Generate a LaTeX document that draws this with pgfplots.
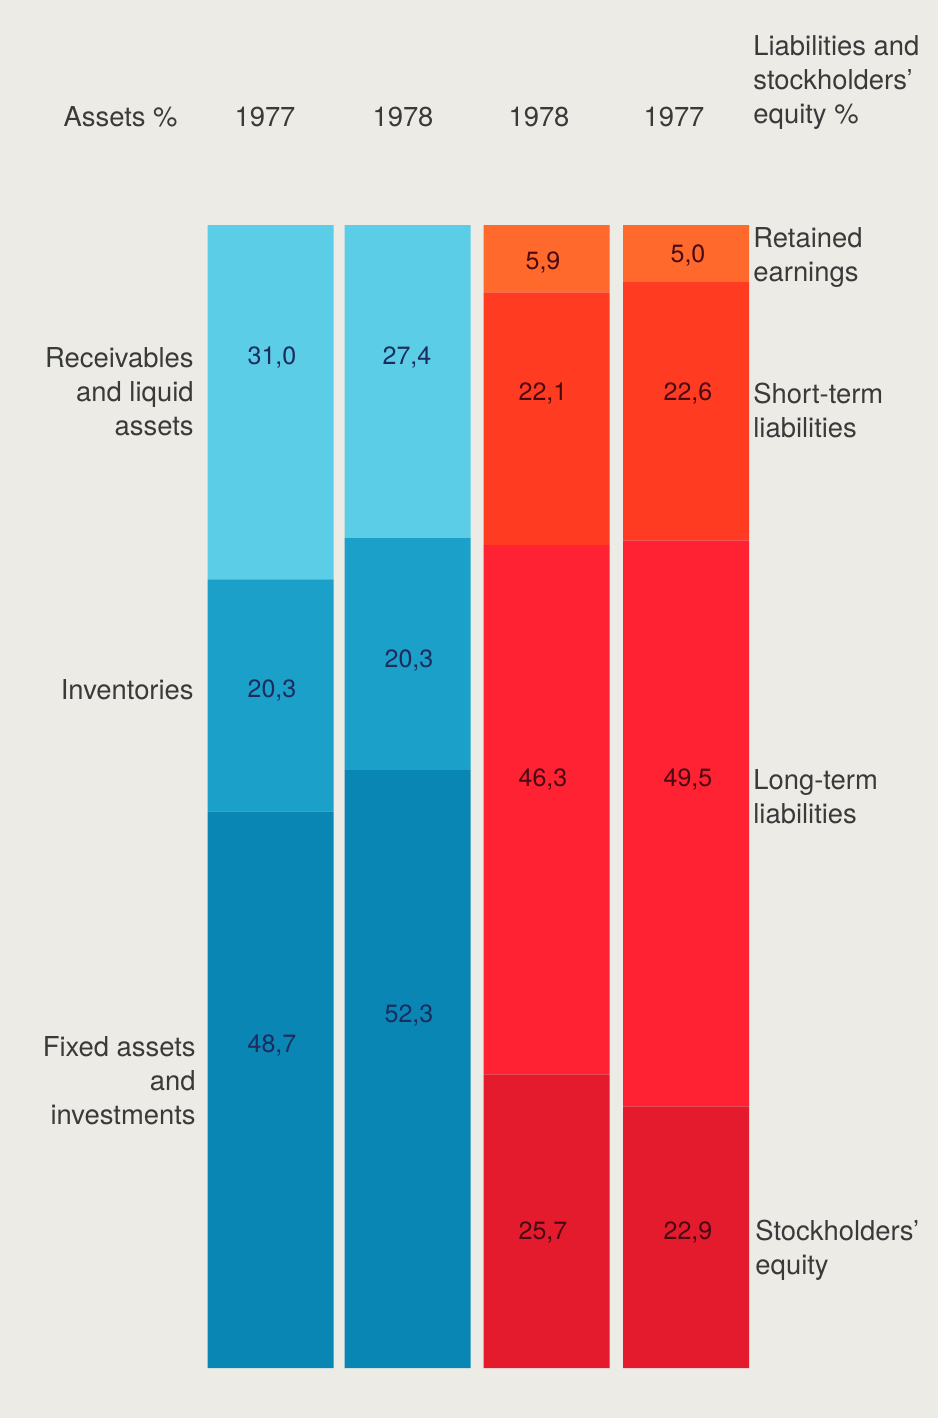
\documentclass[border=0pt]{standalone}
\usepackage{pgfplots}
\pgfplotsset{compat=1.18}
\usepackage{fontspec}
\setmainfont{TeX Gyre Heros}
\definecolor{bg}{HTML}{ECEBE5}
\definecolor{recv}{HTML}{5BCDE6}
\definecolor{inv}{HTML}{1BA0CA}
\definecolor{fixd}{HTML}{0A86B5}
\definecolor{reta}{HTML}{FF6A2C}
\definecolor{shrt}{HTML}{FF3B22}
\definecolor{long}{HTML}{FF2232}
\definecolor{equi}{HTML}{E31B2C}
\definecolor{txt}{HTML}{3A3A3A}
\definecolor{navy}{HTML}{1C2C5C}
\definecolor{dred}{HTML}{4A0A14}
\begin{document}
\begin{tikzpicture}
\fill[bg] (0pt,0pt) rectangle (469pt,709pt);
\begin{axis}[at={(0pt,0pt)}, anchor=south west, scale only axis,
  width=469pt, height=709pt, xmin=0, xmax=938, ymin=-4.374, ymax=119.69,
  hide axis, ybar stacked, bar width=126,
  every axis plot/.append style={draw=none}]
% bottom level
\addplot[fill=fixd] coordinates {(270.5,48.7) (407.5,52.3) (546.5,0) (686,0)};
\addplot[fill=equi] coordinates {(270.5,0) (407.5,0) (546.5,25.7) (686,22.9)};
% middle level
\addplot[fill=inv] coordinates {(270.5,20.3) (407.5,20.3) (546.5,0) (686,0)};
\addplot[fill=long] coordinates {(270.5,0) (407.5,0) (546.5,46.3) (686,49.5)};
% upper level
\addplot[fill=recv] coordinates {(270.5,31.0) (407.5,27.4) (546.5,0) (686,0)};
\addplot[fill=shrt] coordinates {(270.5,0) (407.5,0) (546.5,22.1) (686,22.6)};
% top level
\addplot[fill=reta] coordinates {(270.5,0) (407.5,0) (546.5,5.9) (686,5.0)};
\end{axis}
\begin{scope}[shift={(0pt,709pt)}, x=0.5pt, y=-0.5pt]
\tikzset{lab/.style={text=txt, font=\fontsize{13.7}{17}\selectfont, inner sep=0pt},
         num/.style={font=\fontsize{12.5}{15}\selectfont, inner sep=0pt}}
% header
\node[lab, anchor=east] at (178,117) {Assets \%};
\node[lab] at (265,117) {1977};
\node[lab] at (403,117) {1978};
\node[lab] at (539,117) {1978};
\node[lab] at (674,117) {1977};
\node[lab, anchor=west, align=left] at (753,83) {Liabilities and\\stockholders'\\equity \%};
% left labels
\node[lab, anchor=east, align=right] at (194,392) {Receivables\\and liquid\\assets};
\node[lab, anchor=east] at (194,690) {Inventories};
\node[lab, anchor=east, align=right] at (196,1081) {Fixed assets\\and\\investments};
% right labels
\node[lab, anchor=west, align=left] at (753,258) {Retained\\earnings};
\node[lab, anchor=west, align=left] at (753,410) {Short-term\\liabilities};
\node[lab, anchor=west, align=left] at (753,797) {Long-term\\liabilities};
\node[lab, anchor=west, align=left] at (755,1250) {Stockholders'\\equity};
% values
\node[num, text=navy] at (272,357) {31,0};
\node[num, text=navy] at (407,357) {27,4};
\node[num, text=navy] at (272,690) {20,3};
\node[num, text=navy] at (409,660) {20,3};
\node[num, text=navy] at (272,1045) {48,7};
\node[num, text=navy] at (409,1015) {52,3};
\node[num, text=dred] at (543,262) {5,9};
\node[num, text=dred] at (688,255) {5,0};
\node[num, text=dred] at (543,393) {22,1};
\node[num, text=dred] at (688,393) {22,6};
\node[num, text=dred] at (543,779) {46,3};
\node[num, text=dred] at (688,779) {49,5};
\node[num, text=dred] at (543,1232) {25,7};
\node[num, text=dred] at (688,1232) {22,9};
\end{scope}
\end{tikzpicture}
\end{document}
